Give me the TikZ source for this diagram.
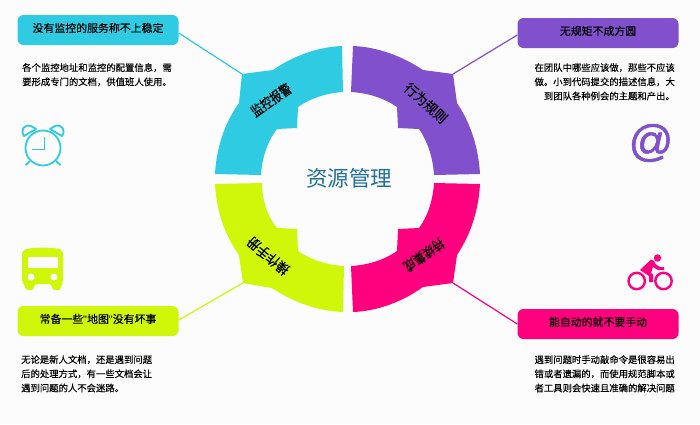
\documentclass[tikz,border=0pt]{standalone}
\usepackage{fontspec}
\setmainfont{Noto Sans CJK SC}
\newfontfamily\boldish[FakeBold=0.4]{Noto Sans CJK SC}
\newfontfamily\bodyish[FakeBold=0.12]{Noto Sans CJK SC}
\definecolor{cy}{HTML}{2ECBE3}
\definecolor{pu}{HTML}{8150CC}
\definecolor{li}{HTML}{D0F70A}
\definecolor{ma}{HTML}{FF007F}
\definecolor{bg}{HTML}{FCFCFD}
\definecolor{ti}{HTML}{1F6F9F}
\newcommand{\hdup}[1]{\raisebox{5pt}{#1}}
\tikzset{x=1pt,y=-1pt,
 hd/.style={rounded corners=6pt,minimum width=161pt,minimum height=30pt,inner sep=0pt,font=\boldish\fontsize{10.9}{12}\selectfont,text=black},
 bd/.style={font=\bodyish\fontsize{9.35}{14.2}\selectfont,text=black,inner sep=0pt},
 lab/.style={font=\bodyish\fontsize{14}{16}\selectfont,text=black,inner sep=0pt,transform shape}}
\begin{document}
\begin{tikzpicture}
\useasboundingbox (0,0) rectangle (700,424);
\fill[bg] (0,0) rectangle (700,424);
\coordinate (cA) at (242,74);
\coordinate (cB) at (453,74);
\coordinate (cC) at (243,283);
\coordinate (cD) at (453,283);
\node[hd,fill=cy] (ha) at (98,30) {\hdup{没有监控的服务称不上稳定}};
\node[hd,fill=pu] (hb) at (598,33) {\hdup{无规矩不成方圆}};
\node[hd,fill=li] (hc) at (98,321) {\hdup{常备一些{\fontspec{Liberation Sans}"}地图{\fontspec{Liberation Sans}"}没有坏事}};
\node[hd,fill=ma] (hd) at (598,324) {\hdup{能自动的就不要手动}};
\draw[cy,line width=1.2pt] (ha.east|-0,33) -- (cA);
\draw[pu,line width=1.2pt] (hb.west|-0,35) -- (cB);
\draw[li,line width=1.2pt] (hc.east|-0,320) -- (cC);
\draw[ma,line width=1.2pt] (hd.west|-0,324) -- (cD);
% segments
\fill[cy] (342,46) .. controls (317.5,47) and (293,56) .. (273,70) -- (242,74) -- (239,103)
  .. controls (224,124) and (216.5,148) .. (215,174) -- (261,175) .. controls (262,158.5) and (267,142) .. (277,129)
  -- (297,128) -- (298,107) .. controls (311,98) and (327,93) .. (343,92) -- cycle;
\fill[pu] (353,46) .. controls (377.5,47) and (402,56) .. (423,70) -- (453,74) -- (457,103)
  .. controls (471,124) and (478.5,148) .. (480,174) -- (434,175) .. controls (433,158.5) and (428,142) .. (419,129)
  -- (398,128) -- (397,107) .. controls (384,98) and (368,93) .. (351,92) -- cycle;
\fill[li] (215,184) .. controls (216.5,210) and (224,234) .. (239,255) -- (243,283) -- (272,288)
  .. controls (293,302) and (317.5,311) .. (343,312) -- (344,266) .. controls (327,265) and (311,260) .. (298,251)
  -- (297,229) -- (277,228) .. controls (267,216) and (262,199.5) .. (262,183) -- cycle;
\fill[ma] (480,184) .. controls (478.5,210) and (471,234) .. (457,255) -- (453,283) -- (423,287)
  .. controls (402,302) and (377.5,311) .. (353,312) -- (351,266) .. controls (368,265) and (384,260) .. (397,251)
  -- (398,229) -- (419,228) .. controls (428,216) and (433,199.5) .. (434,183) -- cycle;
\node[lab,rotate=35,xscale=.82] (la) at (271,100) {监控报警};
\node[lab,rotate=-42,xscale=.93] (lb) at (426,103) {行为规则};
\node[lab,rotate=140,xscale=.9] (lc) at (268,256) {操作手册};
\node[lab,rotate=215,xscale=.82] (ld) at (424,255) {持续集成};
\node[font=\fontsize{21.5}{24}\selectfont,text=ti,inner sep=0] (ct) at (349,178) {资源管理};
% body
\node[bd,anchor=north west,align=left] (ba) at (22,63) {各个监控地址和监控的配置信息，需\\要形成专门的文档，供值班人使用。};
\node[bd,anchor=north east,align=right] (bb) at (675,63) {在团队中哪些应该做，那些不应该\\做。小到代码提交的描述信息，大\\到团队各种例会的主题和产出。};
\node[bd,anchor=north west,align=left] (bc) at (21,355) {无论是新人文档，还是遇到问题\\后的处理方式，有一些文档会让\\遇到问题的人不会迷路。};
\node[bd,anchor=north east,align=right] (bd) at (675,355) {遇到问题时手动敲命令是很容易出\\错或者遗漏的，而使用规范脚本或\\者工具则会快速且准确的解决问题};
% clock
\draw[cy,line width=1.8pt] (43,148) circle (17.5);
\draw[cy,line width=1.8pt] (44.5,137) -- (44.5,149.5) -- (32,149.5);
\draw[cy,line width=1.8pt] (30,161) -- (25.5,165) (56,161) -- (60.5,165);
\draw[cy,line width=1.8pt,line join=round] (24,136) .. controls (20,130) and (24,124) .. (31,126) -- (36,129) -- cycle;
\draw[cy,line width=1.8pt,line join=round] (62,136) .. controls (66,130) and (62,124) .. (55,126) -- (50,129) -- cycle;
% at
\node[font=\fontsize{44}{44}\selectfont,text=pu,inner sep=0] (at) at (651,143) {\fontspec{Liberation Sans}[FakeBold=1.2]@};
% bus
\fill[li,rounded corners=3pt] (22,251) .. controls (30,247) and (56,247) .. (63,251) -- (63,283) -- (61,284) -- (61,290) -- (52,290) -- (52,284) -- (34,284) -- (34,290) -- (25,290) -- (25,284) -- (22,283) -- cycle;
\fill[bg] (27.5,257) rectangle (57.5,267.5);
\fill[bg] (31,277) circle (3.5) (54,277) circle (3.5);
% bike
\draw[ma,line width=2.4pt] (636.7,281) circle (8.2) (663.5,281) circle (8.2);
\fill[ma] (657.5,258) circle (3.7);
\fill[ma] (640,270) -- (651,259.5) .. controls (654,259.5) and (655,262) .. (655.5,264) -- (660,267) -- (664,267) -- (664,270) -- (658,270) -- (653,267) -- (651,273) -- (653,274) -- (653,282) -- (649,282) -- (649,276) -- cycle;
\end{tikzpicture}
\end{document}
